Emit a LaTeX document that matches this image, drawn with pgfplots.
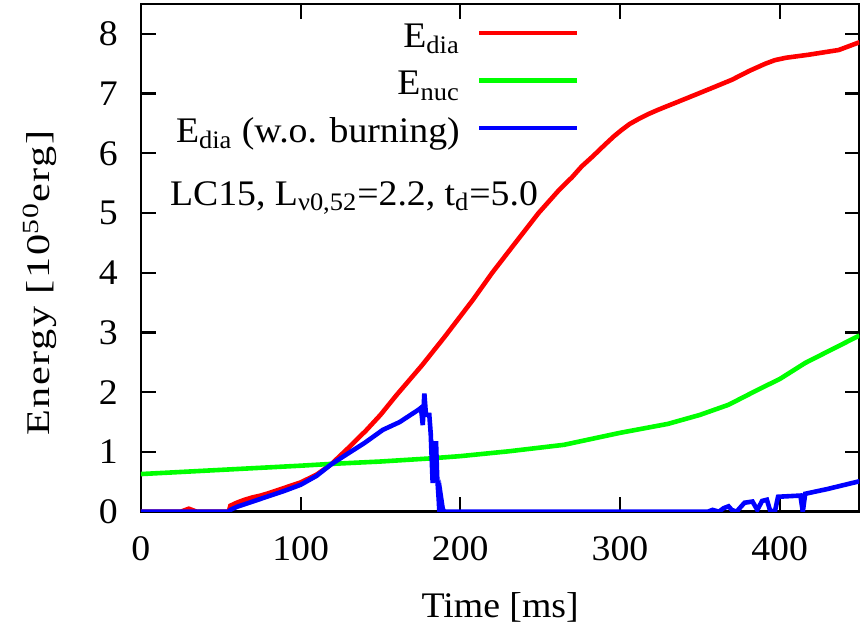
\documentclass[border=0pt]{standalone}
\usepackage{fontspec}
\setmainfont{Liberation Serif}[FakeStretch=1.05]
\usepackage{pgfplots}
\pgfplotsset{compat=1.18}
\newcommand\ls{\rule[-6pt]{0pt}{21pt}}
\begin{document}
\begin{tikzpicture}
\begin{axis}[
  scale only axis,
  width=359.5pt, height=254pt,
  xmin=0, xmax=450, ymin=0, ymax=8.5,
  xtick={0,100,200,300,400},
  ytick={0,1,2,3,4,5,6,7,8},
  tick align=inside,
  major tick length=7.5pt,
  axis line style={line width=1.2pt},
  tick style={line width=1.1pt, black},
  /pgf/number format/assume math mode=true,
  ticklabel style={font=\fontsize{18}{21}\selectfont},
  label style={font=\fontsize{18}{21}\selectfont},
  yticklabel shift=8pt,
  xticklabel shift=9pt,
  xlabel={Time [ms]},
  ylabel={\scalebox{1.12}[0.92]{\addfontfeature{LetterSpace=4}Energy [10\textsuperscript{50}erg]}},
  xlabel style={at={(rel axis cs:0.5,-0.2087)}, anchor=base},
  ylabel style={at={(rel axis cs:-0.1405,0.45)}, anchor=center},
  legend plot pos=right,
  legend cell align=right,
  legend image code/.code={\draw[#1] (0pt,0.5pt) -- (49pt,0.5pt);},
  legend style={draw=none, fill=none, font=\fontsize{18}{21}\selectfont,
    at={(rel axis cs:0.6106,0.982)}, anchor=north east, inner sep=0pt,
    column sep=6.5pt, row sep=3.25pt},
]
\addplot[red, line width=2.3pt] coordinates {
(0,0) (25,0) (30,0.05) (35,0) (55,0) (56,0.1) (60,0.15) (65,0.2) (70,0.24)
(75,0.27) (80,0.31) (90,0.4) (100,0.49) (110,0.62) (119,0.79) (130,1.07)
(141,1.36) (150,1.62) (160,1.95) (168,2.2) (176,2.45) (190,2.92) (208,3.55)
(220,4.0) (233,4.45) (249,5.0) (262,5.39) (270,5.6) (276,5.78) (283,5.95)
(290,6.13) (296,6.28) (301,6.39) (306,6.49) (312,6.58) (318,6.66) (324,6.73) (337,6.87)
(349,7.0) (360,7.12) (370,7.23) (381,7.38) (391,7.50) (397,7.56) (404,7.60) (418,7.65)
(437,7.73) (450,7.86)};
\addlegendentry{\ls E\textsubscript{dia}}
\addplot[green, line width=2.3pt] coordinates {
(0,0.63) (50,0.70) (100,0.77) (119,0.80) (150,0.84) (180,0.89) (200,0.93)
(230,1.01) (265,1.12) (300,1.32) (330,1.47) (350,1.62) (368,1.79) (387,2.05)
(400,2.22) (416,2.49) (430,2.68) (450,2.95)};
\addlegendentry{\ls E\textsubscript{nuc}}
\addplot[blue, line width=2.3pt] coordinates {
(0,0) (55,0) (56,0.03) (60,0.08) (70,0.17) (80,0.26) (90,0.35) (100,0.45)
(110,0.6) (119,0.79) (130,0.98) (140,1.15) (151.5,1.37) (162,1.50) (174,1.71)
(175.4,1.74) (176.5,1.45) (177.5,1.98) (178.5,1.62) (180.6,1.62) (181.5,1.3)
(182.7,0.48) (183.8,0.9) (184.8,1.18) (185.5,0.6) (186.5,0.2) (187,-0.05)
(188,0.23) (189,0.05) (190,0) (355,0) (358,0.03) (362,0.0) (365,0.06)
(368,0.09) (370,0.03) (373,0.0) (378,0.15) (383,0.17) (386,0.03) (389,0.18)
(392,0.2) (394,0.02) (397,0.0) (399,0.25) (413,0.27) (414.5,0) (416,0.3)
(430,0.38) (450,0.51)};
\addlegendentry{\ls E\textsubscript{dia} (w.o. burning)}
\node[anchor=base west, inner sep=0pt, font=\fontsize{18}{21}\selectfont] at (rel axis cs:0.040,0.604)
  {LC15, L\textsubscript{ν0,52}=2.2, t\textsubscript{d}=5.0};
\end{axis}
\pgfresetboundingbox
\path (current axis.south west) ++(-70.5pt,-58pt) coordinate (bl);
\path (current axis.north east) ++(0.25pt,2pt) coordinate (tr);
\useasboundingbox (bl) rectangle (tr);
\end{tikzpicture}
\end{document}
